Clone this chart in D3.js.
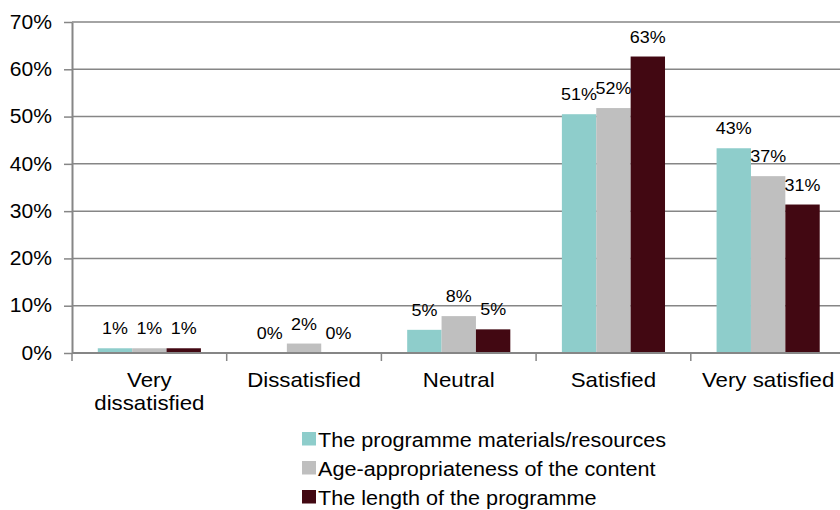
<!DOCTYPE html>
<html>
<head>
<meta charset="utf-8">
<script src="https://cdn.jsdelivr.net/npm/d3@7"></script>
<style>
  body { margin: 0; background: #fff; }
  svg text { font-family: "Liberation Sans", Arial, sans-serif; fill: #000; }
</style>
</head>
<body>
<div id="chart"></div>
<script>
// Data
const categories = ["Very dissatisfied", "Dissatisfied", "Neutral", "Satisfied", "Very satisfied"];
const series = ["The programme materials/resources", "Age-appropriateness of the content", "The length of the programme"];
const materials = [1.0, 0.0, 4.9, 50.5, 43.3];
const ageContent = [1.0, 2.0, 7.8, 51.8, 37.4];
const lengthProg = [1.0, 0.0, 5.0, 62.7, 31.4];
const yTicks = [0, 10, 20, 30, 40, 50, 60, 70];
const colors = ["#8ecdcb", "#bfbfbf", "#420812"];

const values = [materials, ageContent, lengthProg];

const width = 840, height = 510;
const plotLeft = 72, plotRight = 845.5, plotTop = 22, plotBottom = 353;

// the original's text is a little wider than Arial, so stretch it
function stretch(sel, k) {
  sel.each(function() {
    const len = this.getComputedTextLength();
    d3.select(this)
      .attr("textLength", len * k)
      .attr("lengthAdjust", "spacingAndGlyphs");
  });
}

const svg = d3.select("#chart")
  .append("svg")
    .attr("width", width)
    .attr("height", height);

const x = d3.scaleBand()
  .domain(categories)
  .range([plotLeft, plotRight]);

const xSub = d3.scaleBand()
  .domain(series)
  .range([0, x.bandwidth()])
  .paddingOuter(0.75);

const y = d3.scaleLinear()
  .domain([0, 70])
  .range([plotBottom, plotTop]);

// Gridlines
svg.append("g")
  .selectAll("line")
  .data(yTicks.slice(1))
  .enter().append("line")
    .attr("x1", plotLeft)
    .attr("x2", plotRight)
    .attr("y1", d => y(d))
    .attr("y2", d => y(d))
    .attr("stroke", "#868686")
    .attr("stroke-width", 1.5);

// Bars
const groups = svg.append("g")
  .selectAll("g")
  .data(series)
  .enter().append("g")
    .attr("fill", (d, i) => colors[i]);

groups.selectAll("rect")
  .data((s, i) => categories.map((c, j) => ({ c, s, v: values[i][j] })))
  .enter().append("rect")
    .attr("x", d => x(d.c) + xSub(d.s))
    .attr("width", xSub.bandwidth())
    .attr("y", d => y(d.v))
    .attr("height", d => plotBottom - y(d.v));

// Data labels
const labels = groups.selectAll("text")
  .data((s, i) => categories.map((c, j) => ({ c, s, v: values[i][j] })))
  .enter().append("text")
    .attr("x", d => x(d.c) + xSub(d.s) + xSub.bandwidth() / 2)
    .attr("y", d => y(d.v) - 14)
    .attr("text-anchor", "middle")
    .style("font-size", "16px")
    .style("fill", "#000")
    .text(d => Math.round(d.v) + "%");
stretch(labels, 1.12);

// Y axis
const yAxis = svg.append("g")
  .attr("transform", `translate(${plotLeft},0)`)
  .call(d3.axisLeft(y)
    .tickValues(yTicks)
    .tickFormat(d => d + "%")
    .tickSize(8)
    .tickSizeOuter(0)
    .tickPadding(12));
yAxis.select(".domain").attr("stroke", "#868686").attr("stroke-width", 2);
yAxis.selectAll(".tick line").attr("stroke", "#868686").attr("stroke-width", 1.5);
yAxis.selectAll(".tick text")
  .style("font-size", "19.5px")
  .style("font-family", "'Liberation Sans', Arial, sans-serif")
  .attr("fill", "#000");
stretch(yAxis.selectAll(".tick text"), 1.08);

// X axis baseline and category ticks
svg.append("line")
  .attr("x1", plotLeft)
  .attr("x2", plotRight)
  .attr("y1", plotBottom)
  .attr("y2", plotBottom)
  .attr("stroke", "#868686")
  .attr("stroke-width", 2);

svg.append("g")
  .selectAll("line")
  .data(categories)
  .enter().append("line")
    .attr("x1", d => x(d))
    .attr("x2", d => x(d))
    .attr("y1", plotBottom)
    .attr("y2", plotBottom + 8)
    .attr("stroke", "#868686")
    .attr("stroke-width", 1.5);

// Category labels (wrapped like the original)
const catLines = { "Very dissatisfied": ["Very", "dissatisfied"] };
const catText = svg.append("g")
  .selectAll("text")
  .data(categories)
  .enter().append("text")
    .attr("y", 386.5)
    .attr("text-anchor", "middle")
    .style("font-size", "21px");
catText.each(function(d) {
  const lines = catLines[d] || [d];
  d3.select(this).selectAll("tspan")
    .data(lines)
    .enter().append("tspan")
      .attr("x", x(d) + x.bandwidth() / 2)
      .attr("dy", (l, i) => i === 0 ? 0 : 23)
      .text(l => l);
});
stretch(catText.selectAll("tspan"), 1.06);

// Legend
const legend = svg.append("g")
  .attr("transform", "translate(302,432)");

const item = legend.selectAll("g")
  .data(series)
  .enter().append("g")
    .attr("transform", (d, i) => `translate(0,${i * 29})`);

item.append("rect")
  .attr("width", 14)
  .attr("height", 13.5)
  .attr("fill", (d, i) => colors[i]);

const legendText = item.append("text")
  .attr("x", 16)
  .attr("y", 14.5)
  .style("font-size", "20px")
  .text(d => d);
stretch(legendText, 1.08);
</script>
</body>
</html>
